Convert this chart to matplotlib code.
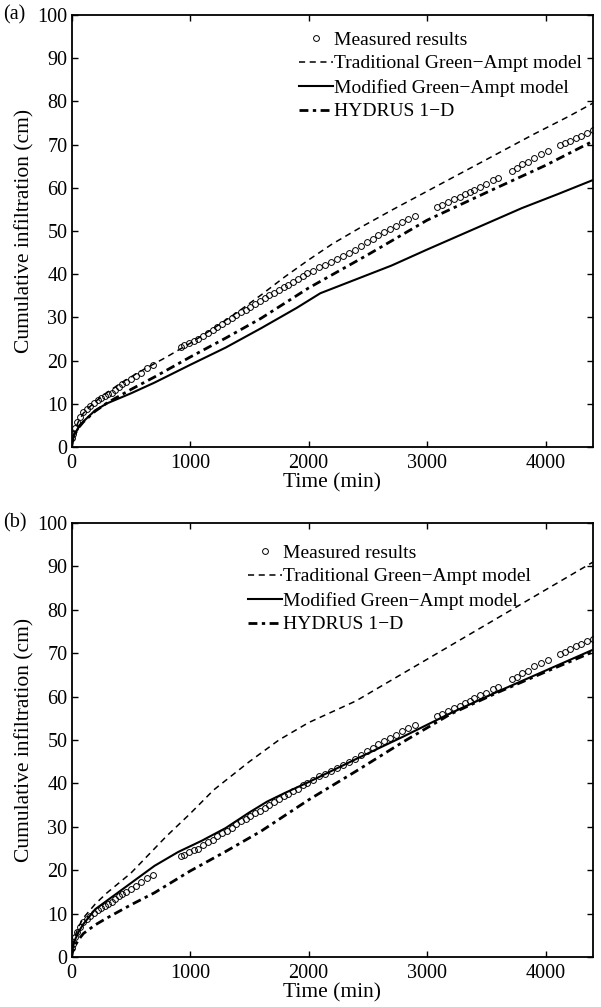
import matplotlib
matplotlib.use("Agg")
import matplotlib.pyplot as plt
from matplotlib.lines import Line2D

plt.rcParams['font.family'] = ['Liberation Serif', 'DejaVu Serif']
plt.rcParams['mathtext.fontset'] = 'stix'

# ---------------- data ----------------
meas_t = [5, 15, 30, 50, 75, 100, 130, 160, 190, 220, 250, 280, 310, 340, 370, 400, 430, 460,
          500, 540, 590, 640, 690,
          920, 950, 990, 1030, 1070, 1110, 1150, 1190, 1230, 1270, 1310, 1350, 1390, 1430, 1470,
          1510, 1550, 1590, 1630, 1670, 1710, 1750, 1790, 1830, 1870, 1910, 1950, 1990, 2040,
          2090, 2140, 2190, 2240, 2290, 2340, 2390, 2440, 2490, 2540, 2590, 2640, 2690, 2740,
          2790, 2840, 2900,
          3080, 3130, 3180, 3230, 3280, 3320, 3360, 3400, 3450, 3500, 3560, 3600,
          3720, 3760, 3800, 3850, 3900, 3960, 4020,
          4120, 4160, 4210, 4260, 4300, 4350, 4400]
meas_y = [2.0, 3.0, 4.5, 5.8, 7.0, 8.0, 8.8, 9.5, 10.2, 10.9, 11.3, 11.8, 12.2, 12.6, 13.3, 14.0, 14.6, 15.0,
          15.7, 16.4, 17.2, 18.2, 19.0,
          23.2, 23.6, 24.1, 24.6, 25.0, 25.8, 26.4, 27.0, 27.8, 28.5, 29.1, 29.8, 30.6, 31.3, 31.8,
          32.4, 33.2, 33.7, 34.4, 35.1, 35.7, 36.3, 37.0, 37.6, 38.3, 38.8, 39.6, 40.2, 40.8,
          41.6, 42.2, 42.9, 43.6, 44.3, 45.0, 45.7, 46.6, 47.4, 48.2, 49.0, 49.7, 50.4, 51.2,
          52.0, 52.7, 53.5,
          55.5, 56.0, 56.6, 57.3, 57.9, 58.5, 59.0, 59.6, 60.3, 60.9, 61.8, 62.3,
          64.0, 64.6, 65.4, 66.0, 67.0, 67.8, 68.5,
          69.8, 70.3, 70.9, 71.6, 72.1, 72.8, 73.3]

# panel (a)
trad_a_t = [0, 10, 30, 60, 100, 150, 200, 300, 400, 500, 600, 800, 1000, 1200, 1400, 1600, 1800,
            2000, 2200, 2450, 2700, 3000, 3300, 3600, 3900, 4200, 4400]
trad_a_y = [0, 2.0, 4.0, 6.0, 7.8, 9.2, 10.5, 12.6, 14.5, 16.2, 17.8, 20.8, 24.0, 27.5, 31.2, 35.2, 39.4,
            43.3, 47.0, 51.0, 54.8, 59.2, 63.6, 68.0, 72.4, 76.6, 79.6]
mod_a_t = [0, 10, 30, 60, 100, 200, 300, 500, 700, 1000, 1300, 1600, 1900, 2100, 2400, 2700, 3000,
           3400, 3800, 4100, 4400]
mod_a_y = [0, 1.8, 3.2, 4.6, 5.9, 8.5, 10.1, 12.4, 14.9, 19.0, 23.0, 27.5, 32.2, 35.6, 38.8, 42.0, 45.7,
           50.5, 55.3, 58.5, 61.8]
hyd_a_t = [0, 10, 30, 60, 100, 200, 300, 500, 700, 1000, 1300, 1600, 2000, 2500, 3000, 3500, 4000, 4400]
hyd_a_y = [0, 1.5, 3.0, 4.5, 5.8, 8.3, 10.2, 13.3, 16.2, 20.8, 25.2, 29.8, 36.8, 44.5, 52.5, 58.9, 65.2, 70.8]

# panel (b)
trad_b_t = [0, 10, 30, 60, 100, 200, 300, 500, 800, 1000, 1200, 1500, 1750, 2000, 2400, 2800, 3200,
            3600, 4000, 4400]
trad_b_y = [0, 2.5, 4.8, 7.0, 9.0, 12.2, 14.8, 19.3, 27.8, 33.0, 38.5, 45.0, 50.0, 54.0, 59.0, 65.4, 71.8,
            78.2, 84.6, 91.0]
mod_b_t = [0, 10, 30, 60, 100, 200, 300, 500, 700, 900, 1100, 1300, 1500, 1650, 1800, 2000, 2400, 2800,
           3200, 3600, 4000, 4400]
mod_b_y = [0, 2.2, 4.0, 5.8, 7.6, 11.0, 13.0, 17.0, 21.0, 24.2, 26.8, 29.7, 33.3, 35.8, 37.8, 40.3, 45.6,
           50.8, 56.2, 61.2, 66.0, 70.8]
hyd_b_t = [0, 10, 30, 60, 100, 200, 300, 500, 700, 1000, 1300, 1600, 2000, 2400, 2800, 3200, 3600, 4000, 4400]
hyd_b_y = [0, 1.3, 2.6, 4.0, 5.4, 7.4, 9.0, 12.0, 14.8, 19.8, 24.3, 29.0, 36.2, 42.8, 49.6, 56.0, 61.0,
           65.7, 70.3]

labels = ["Measured results", "Traditional Green\u2212Ampt model",
          "Modified Green\u2212Ampt model", "HYDRUS 1\u2212D"]
panel_tags = ["(a)", "(b)"]
xticks = [0, 1000, 2000, 3000, 4000]
yticks = [0, 10, 20, 30, 40, 50, 60, 70, 80, 90, 100]

# ---------------- figure ----------------
W, H = 601, 1007
fig = plt.figure(figsize=(W / 100, H / 100), dpi=100)

def ax_rect(l, t, r, b):
    return [l / W, 1 - b / H, (r - l) / W, (b - t) / H]

axes = [fig.add_axes(ax_rect(71.5, 15, 593, 447)),
        fig.add_axes(ax_rect(71.5, 523, 593, 957))]

dash_style = (0, (4.0, 3.0))
dd_style = (0, (3.2, 1.6, 1.2, 1.6))
TFS = 14.5   # tick labels
LFS = 15.5   # axis labels
GFS = 14     # legend

panels = [
    (trad_a_t, trad_a_y, mod_a_t, mod_a_y, hyd_a_t, hyd_a_y),
    (trad_b_t, trad_b_y, mod_b_t, mod_b_y, hyd_b_t, hyd_b_y),
]
legend_pos = [(299, 31), (248, 544)]
tag_pos = [(3, 15), (3, 523)]

for i, ax in enumerate(axes):
    tt, ty, mt, my, ht, hy = panels[i]
    ax.plot(meas_t, meas_y, linestyle='none', marker='o', markersize=4.2,
            markerfacecolor='none', markeredgecolor='black', markeredgewidth=0.7)
    ax.plot(tt, ty, color='black', linestyle=dash_style, linewidth=1.1)
    ax.plot(mt, my, color='black', linestyle='-', linewidth=1.5)
    ax.plot(ht, hy, color='black', linestyle=dd_style, linewidth=2.0)

    ax.set_xlim(0, 4400)
    ax.set_ylim(0, 100)
    ax.set_xticks(xticks)
    ax.set_yticks(yticks)
    ax.tick_params(direction='in', top=True, right=True, length=4, width=1.0,
                   labelsize=TFS)
    ax.tick_params(axis='x', pad=5)
    ax.tick_params(axis='y', pad=3)
    for s in ax.spines.values():
        s.set_linewidth(1.3)
    ax.set_xlabel("Time (min)", fontsize=LFS, labelpad=0)
    ax.set_ylabel("Cumulative infiltration (cm)", fontsize=LFS, labelpad=2)

    handles = [
        Line2D([], [], linestyle='none', marker='o', markersize=4.2, markerfacecolor='none',
               markeredgecolor='black', markeredgewidth=0.7),
        Line2D([], [], color='black', linestyle=dash_style, linewidth=1.1),
        Line2D([], [], color='black', linestyle='-', linewidth=1.5),
        Line2D([], [], color='black', linestyle=dd_style, linewidth=2.0),
    ]
    lx, ly = legend_pos[i]
    ax.legend(handles, labels, loc='upper left', bbox_to_anchor=(lx / W, 1 - ly / H),
              bbox_transform=fig.transFigure, frameon=False, fontsize=GFS,
              handlelength=1.75, handletextpad=0.05, labelspacing=0.32, borderpad=0,
              borderaxespad=0)
    fx, fy = tag_pos[i]
    fig.text(fx / W, 1 - fy / H, panel_tags[i], fontsize=TFS, ha='left', va='center')

fig.savefig("out.png", dpi=100)
